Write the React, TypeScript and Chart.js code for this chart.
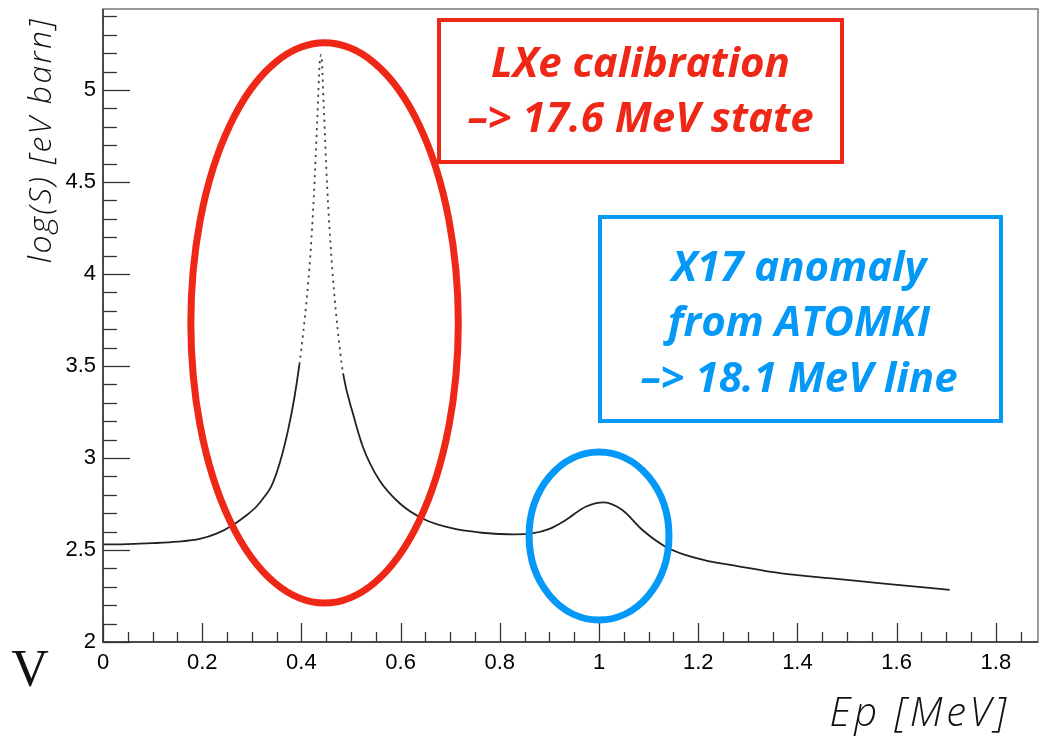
import { useEffect, useRef } from "react";
import { Chart, registerables } from "chart.js";

Chart.register(...registerables);

// Proton energy [MeV]
const energyMeV = [
  0, 0.05, 0.1, 0.15, 0.195, 0.23, 0.262, 0.29, 0.309, 0.325, 0.339, 0.356, 0.373,
  0.386, 0.396, 0.404, 0.4105, 0.418, 0.425, 0.432, 0.437, 0.44, 0.445, 0.452, 0.459,
  0.466, 0.473, 0.484, 0.504, 0.524, 0.557, 0.598, 0.645, 0.705, 0.76, 0.8, 0.83,
  0.865, 0.9, 0.933, 0.973, 1.01, 1.047, 1.087, 1.134, 1.174, 1.22, 1.268, 1.368,
  1.469, 1.569, 1.707,
];
// log(S) [eV barn]
const logS = [
  2.53, 2.532, 2.537, 2.545, 2.56, 2.59, 2.636, 2.69, 2.735, 2.788, 2.844, 2.97, 3.15,
  3.33, 3.51, 3.69, 3.86, 4.1, 4.42, 4.84, 5.15, 5.19, 4.91, 4.47, 4.15,
  3.9, 3.7, 3.46, 3.24, 3.06, 2.88, 2.754, 2.67, 2.617, 2.595, 2.587, 2.585,
  2.59, 2.615, 2.663, 2.735, 2.759, 2.717, 2.61, 2.518, 2.473, 2.44, 2.418, 2.373,
  2.346, 2.319, 2.283,
];

const xTickValues = [0, 0.2, 0.4, 0.6, 0.8, 1, 1.2, 1.4, 1.6, 1.8];
const yTickValues = [2, 2.5, 3, 3.5, 4, 4.5, 5];
const xRange = [0, 1.885];
const yRange = [2, 5.44];

const redBoxLines = ["LXe calibration", "\u2013> 17.6 MeV state"];
const blueBoxLines = ["X17 anomaly", "from ATOMKI", "\u2013> 18.1 MeV line"];
const yTitle = "log(S) [eV barn]";
const xTitle = "Ep [MeV]";

const RED = "#ee2716";
const BLUE = "#0499f6";

const decorPlugin = {
  id: "decor",
  afterDatasetsDraw(chart: any) {
    const { ctx, chartArea } = chart;
    const { left, top, right, bottom } = chartArea;
    const xs = chart.scales.x;
    const ys = chart.scales.y;
    ctx.save();

    // frame
    ctx.lineWidth = 1.5;
    ctx.strokeStyle = "#777";
    ctx.strokeRect(left, top, right - left, bottom - top);
    ctx.strokeStyle = "#333";
    ctx.beginPath();
    ctx.moveTo(left, top);
    ctx.lineTo(left, bottom);
    ctx.lineTo(right, bottom);
    ctx.stroke();

    // y ticks (inside)
    ctx.lineWidth = 1.3;
    ctx.strokeStyle = "#333";
    for (let i = 0; i <= 34; i++) {
      const v = 2 + i * 0.1;
      if (v > yRange[1]) break;
      const py = Math.round(ys.getPixelForValue(v)) + 0.5;
      const len = i % 5 === 0 ? 27 : 14;
      ctx.beginPath();
      ctx.moveTo(left, py);
      ctx.lineTo(left + len, py);
      ctx.stroke();
    }
    // x ticks (inside)
    for (let i = 0; i <= 37; i++) {
      const v = i * 0.05;
      if (v > xRange[1]) break;
      const px = Math.round(xs.getPixelForValue(v)) + 0.5;
      const len = i % 4 === 0 ? 19 : 10;
      ctx.beginPath();
      ctx.moveTo(px, bottom);
      ctx.lineTo(px, bottom - len);
      ctx.stroke();
    }

    // ellipses (data coordinates)
    const drawEllipse = (cx: number, cy: number, rx: number, ry: number, color: string) => {
      const pcx = xs.getPixelForValue(cx);
      const pcy = ys.getPixelForValue(cy);
      const prx = Math.abs(xs.getPixelForValue(cx + rx) - pcx);
      const pry = Math.abs(ys.getPixelForValue(cy + ry) - pcy);
      ctx.strokeStyle = color;
      ctx.lineWidth = 7;
      ctx.beginPath();
      ctx.ellipse(pcx, pcy, prx, pry, 0, 0, Math.PI * 2);
      ctx.stroke();
    };
    drawEllipse(0.4467, 3.734, 0.2696, 1.522, RED);
    drawEllipse(1.0, 2.576, 0.141, 0.4565, BLUE);

    // annotation boxes
    ctx.lineWidth = 4;
    ctx.strokeStyle = RED;
    ctx.strokeRect(439, 20, 403, 142);
    ctx.strokeStyle = BLUE;
    ctx.strokeRect(600, 217, 401, 204);

    ctx.font = "italic 700 42px 'Open Sans'";
    ctx.textAlign = "center";
    ctx.textBaseline = "alphabetic";
    ctx.fillStyle = RED;
    const redBase = [77, 132];
    redBoxLines.forEach((t, i) => ctx.fillText(t, 640.5, redBase[i]));
    ctx.fillStyle = BLUE;
    const blueBase = [281, 336, 392];
    blueBoxLines.forEach((t, i) => ctx.fillText(t, 799, blueBase[i]));

    // axis titles
    ctx.fillStyle = "#111";
    ctx.font = "italic 300 32px 'Open Sans'";
    (ctx as any).letterSpacing = "2.3px";
    ctx.save();
    ctx.translate(51, 140);
    ctx.rotate(-Math.PI / 2);
    ctx.textAlign = "center";
    ctx.fillText(yTitle, 0, 0);
    ctx.restore();

    ctx.font = "italic 300 40px 'Open Sans'";
    (ctx as any).letterSpacing = "3.5px";
    ctx.textAlign = "right";
    ctx.fillText(xTitle, 1010, 726);
    (ctx as any).letterSpacing = "0px";

    // stray slide glyph
    ctx.font = "52px 'Liberation Serif'";
    ctx.textAlign = "center";
    ctx.fillStyle = "#111";
    ctx.fillText("V", 30, 686);

    ctx.restore();
  },
};

export default function App() {
  const canvasRef = useRef<HTMLCanvasElement | null>(null);

  useEffect(() => {
    const canvas = canvasRef.current;
    if (!canvas) return;
    const steep = (c: any) => c.p0.parsed.y > 3.45 && c.p1.parsed.y > 3.45;
    const chart = new Chart(canvas, {
      type: "scatter",
      data: {
        datasets: [
          {
            data: energyMeV.map((x, i) => ({ x, y: logS[i] })),
            showLine: true,
            borderColor: "#222",
            borderWidth: 1.8,
            pointRadius: 0,
            cubicInterpolationMode: "monotone",
            segment: {
              borderDash: (c: any) => (steep(c) ? [2.2, 4.5] : undefined),
              borderColor: (c: any) => (steep(c) ? "#444" : undefined),
            },
          } as any,
        ],
      },
      options: {
        responsive: false,
        animation: false,
        events: [],
        layout: { padding: { left: 0, top: 9, right: 7, bottom: 0 } },
        plugins: { legend: { display: false }, tooltip: { enabled: false } },
        scales: {
          x: {
            type: "linear",
            min: xRange[0],
            max: xRange[1],
            grid: { display: false, drawTicks: false },
            border: { display: false },
            afterBuildTicks: (axis: any) => {
              axis.ticks = xTickValues.map((v) => ({ value: v }));
            },
            afterFit: (axis: any) => {
              axis.height = 97;
              axis.paddingLeft = 0;
              axis.paddingRight = 0;
            },
            ticks: {
              padding: 8,
              maxRotation: 0,
              autoSkip: false,
              color: "#000",
              font: { family: "'Liberation Sans'", size: 22 },
              callback: (v: any) => String(Math.round(Number(v) * 10) / 10),
            },
          },
          y: {
            type: "linear",
            min: yRange[0],
            max: yRange[1],
            grid: { display: false, drawTicks: false },
            border: { display: false },
            afterBuildTicks: (axis: any) => {
              axis.ticks = yTickValues.map((v) => ({ value: v }));
            },
            afterFit: (axis: any) => {
              axis.width = 103;
              axis.paddingTop = 0;
              axis.paddingBottom = 0;
            },
            ticks: {
              padding: 7,
              autoSkip: false,
              color: "#000",
              font: { family: "'Liberation Sans'", size: 22 },
              callback: (v: any) => String(Math.round(Number(v) * 10) / 10),
            },
          },
        },
      },
      plugins: [decorPlugin],
    });
    return () => chart.destroy();
  }, []);

  return (
    <div style={{ position: "absolute", left: 0, top: 0, width: 1045, height: 739, background: "#fff" }}>
      <canvas ref={canvasRef} width={1045} height={739} style={{ display: "block" }} />
    </div>
  );
}
